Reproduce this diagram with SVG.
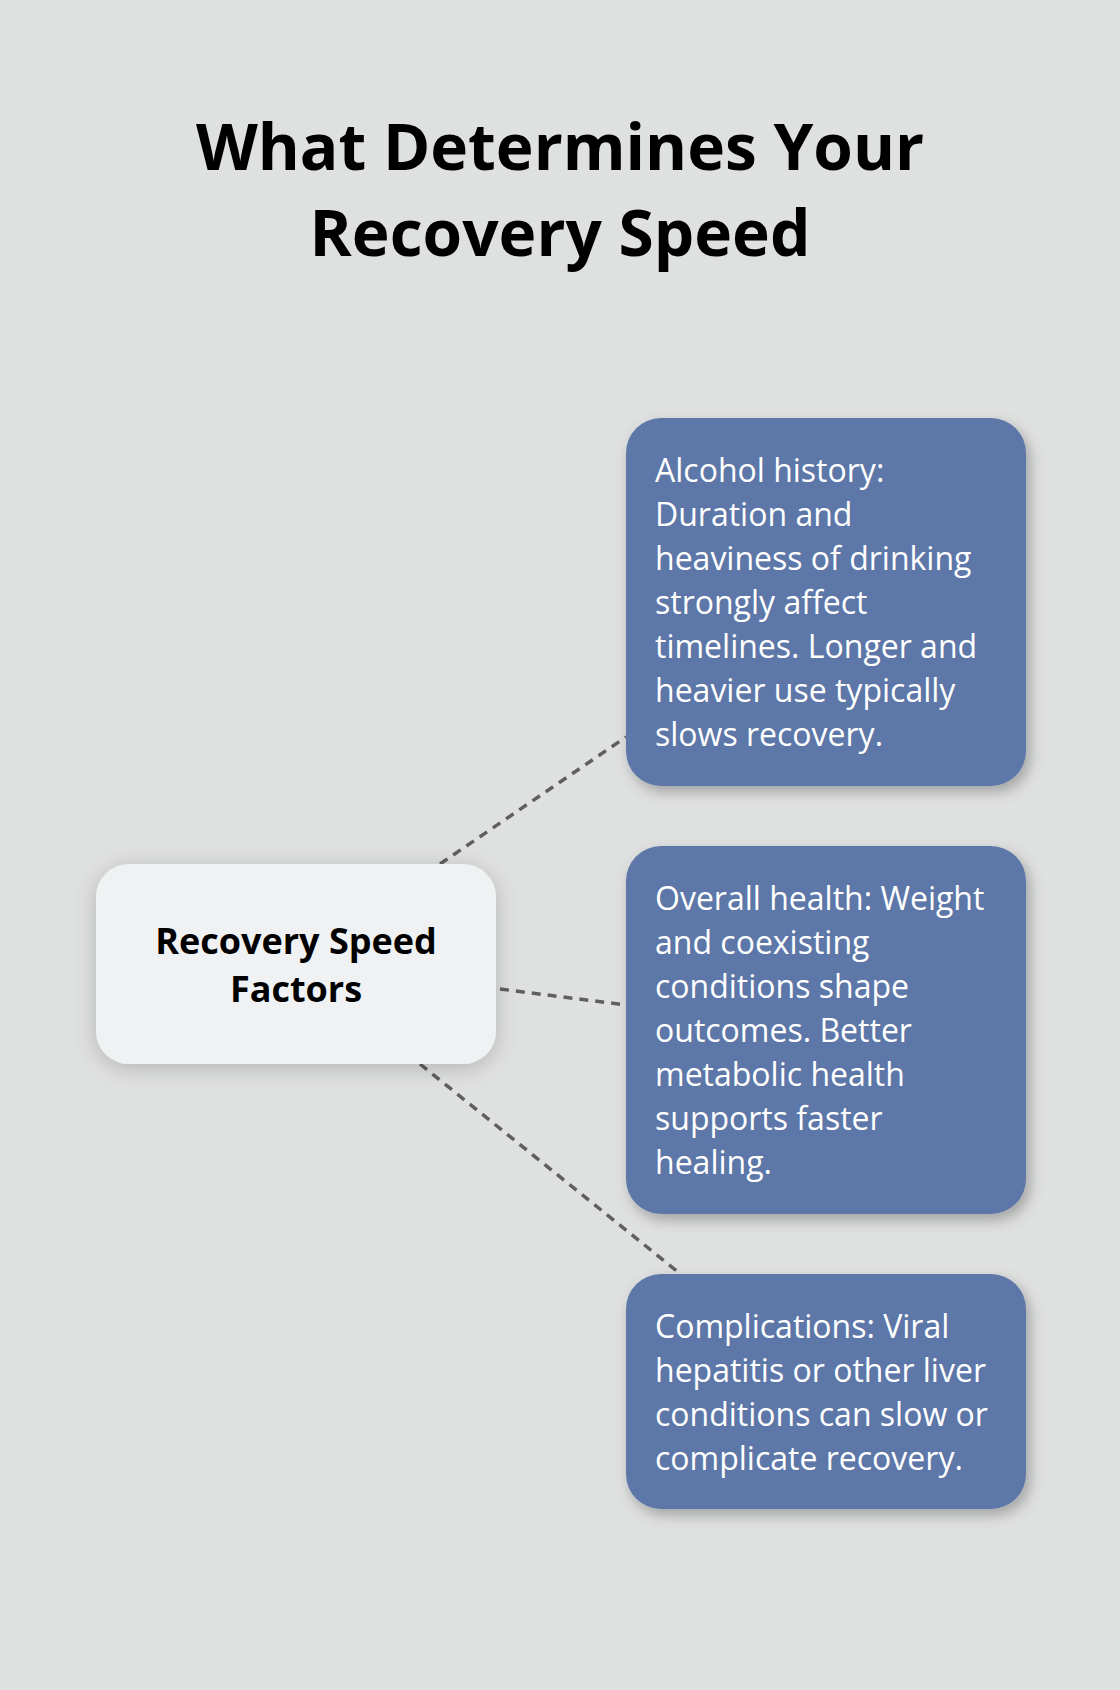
<svg xmlns="http://www.w3.org/2000/svg" width="1120" height="1690" viewBox="0 0 1120 1690">
  <defs>
    <filter id="shadow" x="-20%" y="-20%" width="140%" height="150%">
      <feDropShadow dx="4" dy="6" stdDeviation="7" flood-color="#000" flood-opacity="0.28"/>
    </filter>
    <filter id="shadowLight" x="-20%" y="-30%" width="140%" height="160%">
      <feDropShadow dx="0" dy="4" stdDeviation="11" flood-color="#000" flood-opacity="0.2"/>
    </filter>
  </defs>
  <style>
    .title { font-family: "Open Sans", "Noto Sans", sans-serif; font-weight: 700; font-size: 64px; fill: #000; }
    .center-text { font-family: "Open Sans", "Noto Sans", sans-serif; font-weight: 700; font-size: 36px; fill: #000; }
    .body { font-family: "Open Sans", "Noto Sans", sans-serif; font-weight: 400; font-size: 32px; fill: #fff; }
    .blue { fill: #5D77A8; }
    .conn { stroke: #5F5F5F; stroke-width: 3.5; stroke-dasharray: 9 7; fill: none; }
  </style>
  <rect x="0" y="0" width="1120" height="1690" fill="#DFE1E0"/>

  <g id="title">
    <text class="title" x="560" y="170" text-anchor="middle">What Determines Your</text>
    <text class="title" x="560" y="256" text-anchor="middle">Recovery Speed</text>
  </g>

  <g id="connectors">
    <line class="conn" x1="440" y1="864" x2="626" y2="737"/>
    <line class="conn" x1="500" y1="989" x2="626" y2="1005"/>
    <line class="conn" x1="420" y1="1064" x2="678" y2="1272"/>
  </g>

  <g id="center-node">
    <rect x="96" y="864" width="400" height="200" rx="33" fill="#F0F1F3" filter="url(#shadowLight)"/>
    <text class="center-text" x="296" y="954" text-anchor="middle">Recovery Speed</text>
    <text class="center-text" x="296" y="1002" text-anchor="middle">Factors</text>
  </g>

  <g id="node-alcohol">
    <rect class="blue" x="626" y="418" width="400" height="368" rx="35" filter="url(#shadow)"/>
    <text class="body" x="655">
      <tspan x="655" y="482">Alcohol history:</tspan>
      <tspan x="655" y="526">Duration and</tspan>
      <tspan x="655" y="570">heaviness of drinking</tspan>
      <tspan x="655" y="614">strongly affect</tspan>
      <tspan x="655" y="658">timelines. Longer and</tspan>
      <tspan x="655" y="702">heavier use typically</tspan>
      <tspan x="655" y="746">slows recovery.</tspan>
    </text>
  </g>

  <g id="node-health">
    <rect class="blue" x="626" y="846" width="400" height="368" rx="35" filter="url(#shadow)"/>
    <text class="body" x="655">
      <tspan x="655" y="910">Overall health: Weight</tspan>
      <tspan x="655" y="954">and coexisting</tspan>
      <tspan x="655" y="998">conditions shape</tspan>
      <tspan x="655" y="1042">outcomes. Better</tspan>
      <tspan x="655" y="1086">metabolic health</tspan>
      <tspan x="655" y="1130">supports faster</tspan>
      <tspan x="655" y="1174">healing.</tspan>
    </text>
  </g>

  <g id="node-complications">
    <rect class="blue" x="626" y="1274" width="400" height="235" rx="35" filter="url(#shadow)"/>
    <text class="body" x="655">
      <tspan x="655" y="1338">Complications: Viral</tspan>
      <tspan x="655" y="1382">hepatitis or other liver</tspan>
      <tspan x="655" y="1426">conditions can slow or</tspan>
      <tspan x="655" y="1470">complicate recovery.</tspan>
    </text>
  </g>
</svg>
